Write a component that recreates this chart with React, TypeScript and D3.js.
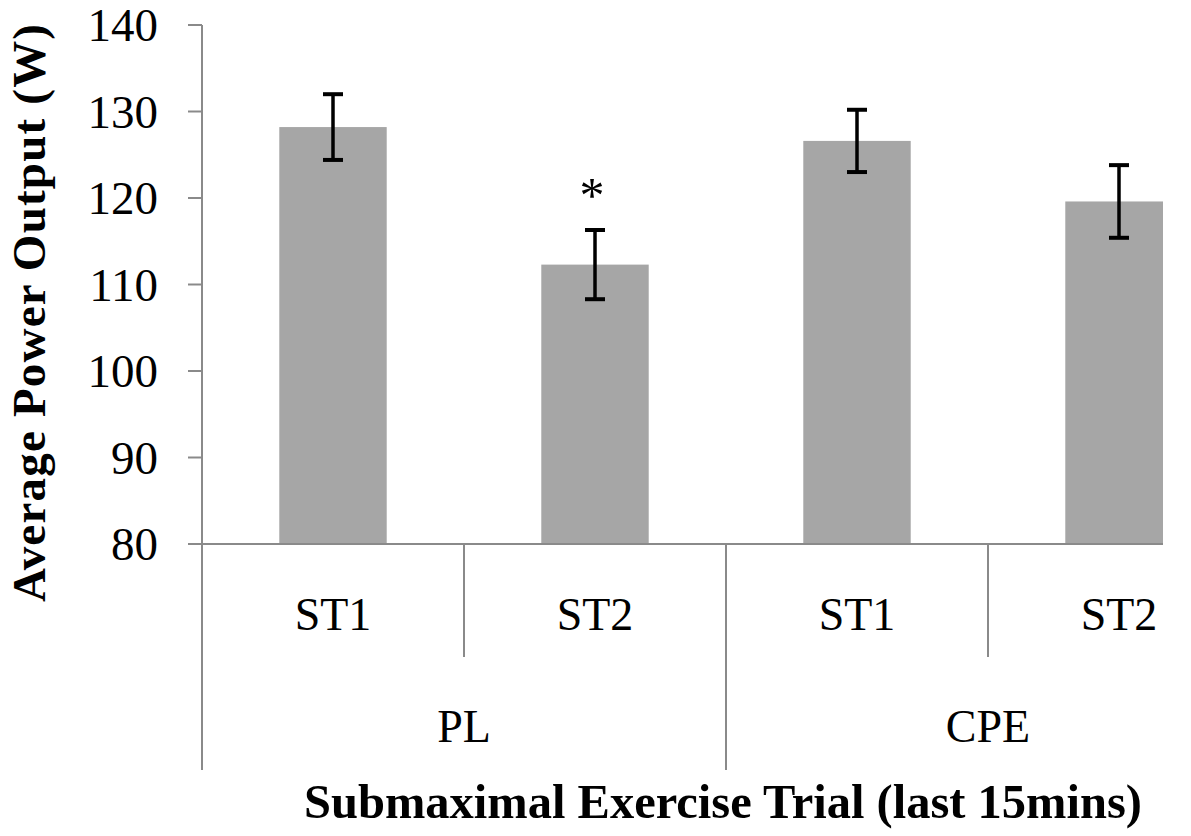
import React from 'react';
import * as d3 from 'd3';

const groups = ['PL', 'CPE'];
const trials = ['ST1', 'ST2'];
const means = [128.2, 112.3, 126.6, 119.6];
const errors = [3.8, 4.0, 3.6, 4.2];
const marks = ['', '*', '', ''];
const yTicks = [80, 90, 100, 110, 120, 130, 140];

const W = 1191;
const H = 836;
const left = 202;
const right = 1163;
const serif = '"Liberation Serif", "Times New Roman", serif';

export default function App() {
  // one band per bar, the picture is cut off before the last band ends
  const keys = groups.flatMap((g) => trials.map((t) => g + '-' + t));
  const x = d3.scaleBand().domain(keys).range([left, left + 4 * 262]);
  const xg = d3.scaleBand().domain(groups).range([left, left + 4 * 262]);
  const y = d3.scaleLinear().domain([80, 140]).range([544, 25]);
  const barW = x.bandwidth() * 0.41;
  const base = y(80);

  const axisColor = '#8a8a8a';

  return (
    <svg width={W} height={H} style={{ position: 'absolute', left: 0, top: 0, background: '#fff' }}>
      <defs>
        <clipPath id="plot">
          <rect x={left} y={0} width={right - left} height={base + 1} />
        </clipPath>
      </defs>

      <g clipPath="url(#plot)">
        {keys.map((k, i) => (
          <rect key={k} x={x(k)! + (x.bandwidth() - barW) / 2} y={y(means[i])}
            width={barW} height={base - y(means[i])} fill="#a6a6a6" />
        ))}
      </g>

      {/* error bars */}
      {keys.map((k, i) => {
        const cx = x(k)! + x.bandwidth() / 2;
        const hi = y(means[i] + errors[i]);
        const lo = y(means[i] - errors[i]);
        return (
          <g key={'e' + k} stroke="#000" strokeWidth={3.5}>
            <line x1={cx} x2={cx} y1={hi} y2={lo} />
            <line x1={cx - 10} x2={cx + 10} y1={hi} y2={hi} strokeWidth={4} />
            <line x1={cx - 10} x2={cx + 10} y1={lo} y2={lo} strokeWidth={4} />
            {marks[i] && (
              <text x={cx - 3} y={hi - 18} textAnchor="middle" stroke="none" fill="#000"
                fontFamily={serif} fontSize={50}>{marks[i]}</text>
            )}
          </g>
        );
      })}

      {/* y axis */}
      <line x1={left} x2={left} y1={y(140)} y2={770} stroke={axisColor} strokeWidth={2} />
      {yTicks.map((t) => (
        <g key={t}>
          <line x1={left - 14} x2={left} y1={y(t)} y2={y(t)} stroke={axisColor} strokeWidth={2} />
          <text x={158} y={y(t)} dy="0.35em" textAnchor="end" fontFamily={serif} fontSize={47}>{t}</text>
        </g>
      ))}

      {/* x axis */}
      <line x1={left - 14} x2={right} y1={base} y2={base} stroke={axisColor} strokeWidth={2} />
      {keys.map((k, i) => {
        const x0 = x(k)!;
        const isGroupEdge = i % 2 === 0;
        return (
          <g key={'x' + k}>
            {i > 0 && (
              <line x1={x0} x2={x0} y1={base} y2={isGroupEdge ? 770 : 657} stroke={axisColor} strokeWidth={2} />
            )}
            <text x={x0 + x.bandwidth() / 2} y={630} textAnchor="middle" fontFamily={serif} fontSize={46}>
              {trials[i % 2]}
            </text>
          </g>
        );
      })}
      {groups.map((g) => (
        <text key={g} x={xg(g)! + xg.bandwidth() / 2} y={742} textAnchor="middle" fontFamily={serif} fontSize={46}>{g}</text>
      ))}

      <text x={723} y={818} textAnchor="middle" fontFamily={serif} fontSize={48.5} fontWeight="bold">
        Submaximal Exercise Trial (last 15mins)
      </text>
      <text transform="translate(45,313) rotate(-90)" textAnchor="middle" fontFamily={serif} fontSize={47}
        fontWeight="bold" textLength={578} lengthAdjust="spacing">
        Average Power Output (W)
      </text>
    </svg>
  );
}
